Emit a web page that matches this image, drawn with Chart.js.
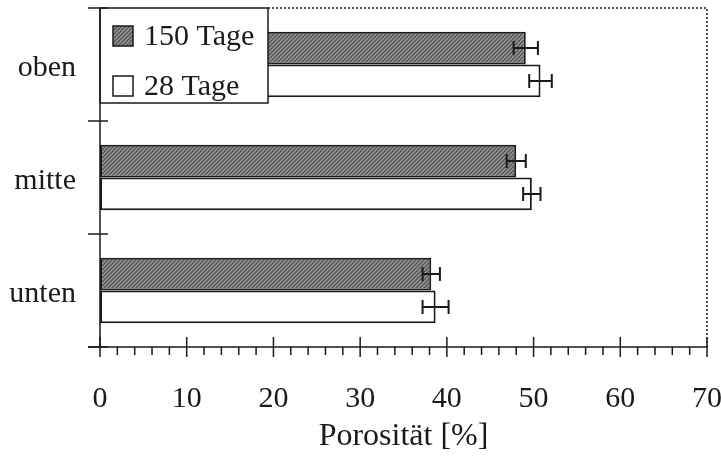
<!DOCTYPE html>
<html>
<head>
<meta charset="utf-8">
<script src="https://cdn.jsdelivr.net/npm/chart.js@4"></script>
<style>
  html, body { margin: 0; background: #fff; }
</style>
</head>
<body>
<canvas id="chart" width="721" height="469"></canvas>
<script>
const categories = ['oben', 'mitte', 'unten'];
const seriesLabels = ['150 Tage', '28 Tage'];
const values150 = [49.1, 48.0, 38.2];
const errors150 = [1.4, 1.1, 1.0];
const values28 = [50.8, 49.8, 38.7];
const errors28 = [1.3, 1.0, 1.5];
const xTicks = [0, 10, 20, 30, 40, 50, 60, 70];
const minorStep = 2;

const ink = '#1a1a1a';
const fontFamily = "'Liberation Serif', 'Times New Roman', serif";

// grey diagonal hatching like the scanned original
function makeHatch() {
  const c = document.createElement('canvas');
  c.width = 4; c.height = 4;
  const g = c.getContext('2d');
  g.fillStyle = '#949494';
  g.fillRect(0, 0, 4, 4);
  g.strokeStyle = '#4a4a4a';
  g.lineWidth = 1.2;
  g.beginPath();
  g.moveTo(0, 4); g.lineTo(4, 0);
  g.moveTo(-1, 1); g.lineTo(1, -1);
  g.moveTo(3, 5); g.lineTo(5, 3);
  g.stroke();
  return g.createPattern(c, 'repeat');
}
const hatch = makeHatch();

const errorData = [errors150, errors28];
const valueData = [values150, values28];

function noPad(scale) {
  scale.paddingTop = 0;
  scale.paddingBottom = 0;
  scale.paddingLeft = 0;
  scale.paddingRight = 0;
}

const decorPlugin = {
  id: 'decor',
  afterDatasetsDraw(chart) {
    const ctx = chart.ctx;
    const xs = chart.scales.x;
    ctx.save();
    ctx.strokeStyle = ink;
    ctx.lineWidth = 2;
    // error bars
    valueData.forEach((vals, di) => {
      const meta = chart.getDatasetMeta(di);
      meta.data.forEach((bar, i) => {
        const y = bar.y;
        const x0 = xs.getPixelForValue(vals[i] - errorData[di][i]);
        const x1 = xs.getPixelForValue(vals[i] + errorData[di][i]);
        ctx.beginPath();
        ctx.moveTo(x0, y); ctx.lineTo(x1, y);
        ctx.moveTo(x0, y - 7); ctx.lineTo(x0, y + 7);
        ctx.moveTo(x1, y - 7); ctx.lineTo(x1, y + 7);
        ctx.stroke();
      });
    });

    // legend box over the top bars
    const a = chart.chartArea;
    ctx.fillStyle = '#fff';
    ctx.fillRect(a.left, a.top, 168, 95);
    ctx.lineWidth = 1.5;
    ctx.strokeRect(a.left, a.top, 168, 95);
    const rows = [{ y: a.top + 28, fill: hatch }, { y: a.top + 78, fill: '#fff' }];
    ctx.font = '30px ' + fontFamily;
    ctx.textBaseline = 'middle';
    ctx.textAlign = 'left';
    rows.forEach((r, i) => {
      ctx.fillStyle = r.fill;
      ctx.fillRect(a.left + 13, r.y - 10, 20, 20);
      ctx.strokeRect(a.left + 13, r.y - 10, 20, 20);
      ctx.fillStyle = ink;
      ctx.fillText(seriesLabels[i], a.left + 44, r.y + 1);
    });
    ctx.restore();
  },
  afterDraw(chart) {
    const ctx = chart.ctx;
    const a = chart.chartArea;
    const xs = chart.scales.x;
    ctx.save();
    ctx.strokeStyle = ink;
    ctx.lineWidth = 1.5;
    // solid axes
    ctx.beginPath();
    ctx.moveTo(a.left, a.top); ctx.lineTo(a.left, a.bottom);
    ctx.moveTo(a.left - 12, a.bottom); ctx.lineTo(a.right, a.bottom);
    ctx.stroke();
    // x ticks: majors cross the axis, minors below
    for (let v = xTicks[0]; v <= xTicks[xTicks.length - 1]; v += minorStep) {
      const px = xs.getPixelForValue(v);
      const major = xTicks.includes(v);
      ctx.beginPath();
      ctx.moveTo(px, major ? a.bottom - 10 : a.bottom);
      ctx.lineTo(px, a.bottom + (major ? 10 : 8));
      ctx.stroke();
    }
    // y ticks at category boundaries
    const step = (a.bottom - a.top) / categories.length;
    for (let i = 0; i <= categories.length; i++) {
      const py = a.top + i * step;
      ctx.beginPath();
      ctx.moveTo(a.left - 12, py); ctx.lineTo(a.left + 8, py);
      ctx.stroke();
    }
    // dotted frame top / right
    ctx.setLineDash([2, 2]);
    ctx.beginPath();
    ctx.moveTo(a.left + 168, a.top); ctx.lineTo(a.right, a.top); ctx.lineTo(a.right, a.bottom);
    ctx.stroke();
    ctx.restore();
  }
};

const ctx = document.getElementById('chart').getContext('2d');
new Chart(ctx, {
  type: 'bar',
  data: {
    labels: categories,
    datasets: [
      {
        label: seriesLabels[0],
        data: values150,
        backgroundColor: hatch,
        borderColor: ink,
        borderWidth: 2,
        borderSkipped: false
      },
      {
        label: seriesLabels[1],
        data: values28,
        backgroundColor: '#fff',
        borderColor: ink,
        borderWidth: 2,
        borderSkipped: false
      }
    ]
  },
  options: {
    indexAxis: 'y',
    responsive: false,
    animation: false,
    layout: { padding: { top: 8, right: 14, left: 0, bottom: 0 } },
    datasets: { bar: { categoryPercentage: 0.58, barPercentage: 1 } },
    plugins: { legend: { display: false }, tooltip: { enabled: false } },
    scales: {
      x: {
        min: 0,
        max: 70,
        afterFit(scale) { scale.height = 122; noPad(scale); },
        afterBuildTicks(scale) { scale.ticks = xTicks.map(v => ({ value: v })); },
        grid: { display: false, drawTicks: false, tickLength: 0 },
        border: { display: false },
        ticks: { color: ink, padding: 34, maxRotation: 0, autoSkip: false, font: { family: fontFamily, size: 30 } },
        title: {
          display: true,
          text: 'Porosität [%]',
          color: ink,
          padding: { top: 0, bottom: 13 },
          font: { family: fontFamily, size: 32 }
        }
      },
      y: {
        afterFit(scale) { scale.width = 100; noPad(scale); },
        grid: { display: false, drawTicks: false, tickLength: 0 },
        border: { display: false },
        ticks: { color: ink, padding: 24, labelOffset: 4, font: { family: fontFamily, size: 30 } }
      }
    }
  },
  plugins: [decorPlugin]
});
</script>
</body>
</html>
